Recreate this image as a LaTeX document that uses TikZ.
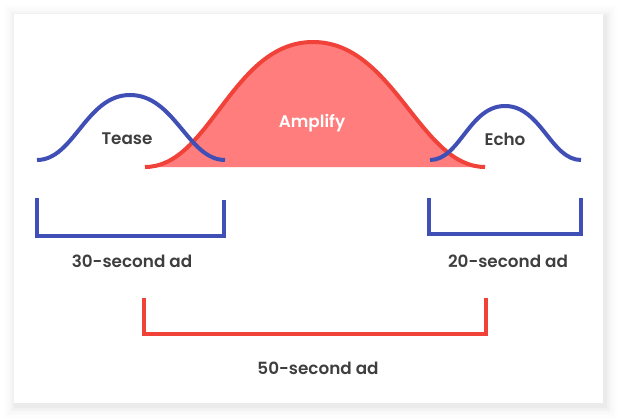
\documentclass[tikz,border=0pt]{standalone}
\usepackage{fontspec}
\newfontfamily\labelfont{Poppins SemiBold}
\begin{document}
\begin{tikzpicture}[x=1pt,y=-1pt,
  bluecurve/.style={draw=curveblue,line width=4pt},
  redcurve/.style={draw=curvered,line width=4pt},
  bracketline/.style={line width=4pt,line cap=butt,line join=miter},
  lbl/.style={font=\labelfont\fontsize{16.8}{19}\selectfont,text=labelgray,inner sep=0pt}]
\definecolor{curveblue}{RGB}{63,79,181}
\definecolor{curvered}{RGB}{240,66,56}
\definecolor{fillred}{RGB}{255,125,125}
\definecolor{labelgray}{RGB}{62,62,62}
\useasboundingbox (0,0) rectangle (617,417);
\fill[white] (0,0) rectangle (617,417);
% card shadow
\foreach \d/\o in {12/0.008,9/0.012,6/0.016,4/0.02,2/0.025}{
  \fill[black,opacity=\o] (14-\d+2,14-\d+3) rectangle (603+\d+2,403+\d+3);
}
\fill[white] (14,14) rectangle (603,403);
% Amplify
\coordinate (aL) at (145,167);
\coordinate (aP) at (313,42);
\coordinate (aR) at (485,167);
\fill[fillred] (aL) .. controls (210,167) and (232,42) .. (aP)
  .. controls (394,42) and (420,167) .. (aR) -- cycle;
\draw[redcurve] (aL) .. controls (210,167) and (232,42) .. (aP)
  .. controls (394,42) and (420,167) .. (aR);
% Tease
\coordinate (tL) at (37,160);
\coordinate (tP) at (130,95);
\coordinate (tR) at (225,160);
\draw[bluecurve] (tL) .. controls (74,160) and (86,95) .. (tP)
  .. controls (175,95) and (188,160) .. (tR);
% Echo
\coordinate (eL) at (430,160);
\coordinate (eP) at (505,106);
\coordinate (eR) at (581,160);
\draw[bluecurve] (eL) .. controls (460,160) and (469,106) .. (eP)
  .. controls (541,106) and (551,160) .. (eR);
% labels on curves
\node[lbl] (tease) at (127,139) {Tease};
\node[lbl,text=white] (amplify) at (312,123) {Amplify};
\node[lbl] (echo) at (505,139) {Echo};
% brackets
\coordinate (b1a) at (37,198);
\coordinate (b1b) at (224,200);
\draw[bracketline,draw=curveblue] (b1a) |- (224,236) -- (b1b);
\coordinate (b2a) at (429,198);
\coordinate (b2b) at (581,198);
\draw[bracketline,draw=curveblue] (b2a) |- (581,234) -- (b2b);
\coordinate (b3a) at (144,298);
\coordinate (b3b) at (486,298);
\draw[bracketline,draw=curvered] (b3a) |- (486,334) -- (b3b);
\node[lbl] (l30) at (132,261) {30-second ad};
\node[lbl] (l20) at (508,261) {20-second ad};
\node[lbl] (l50) at (318,368) {50-second ad};
\end{tikzpicture}
\end{document}
